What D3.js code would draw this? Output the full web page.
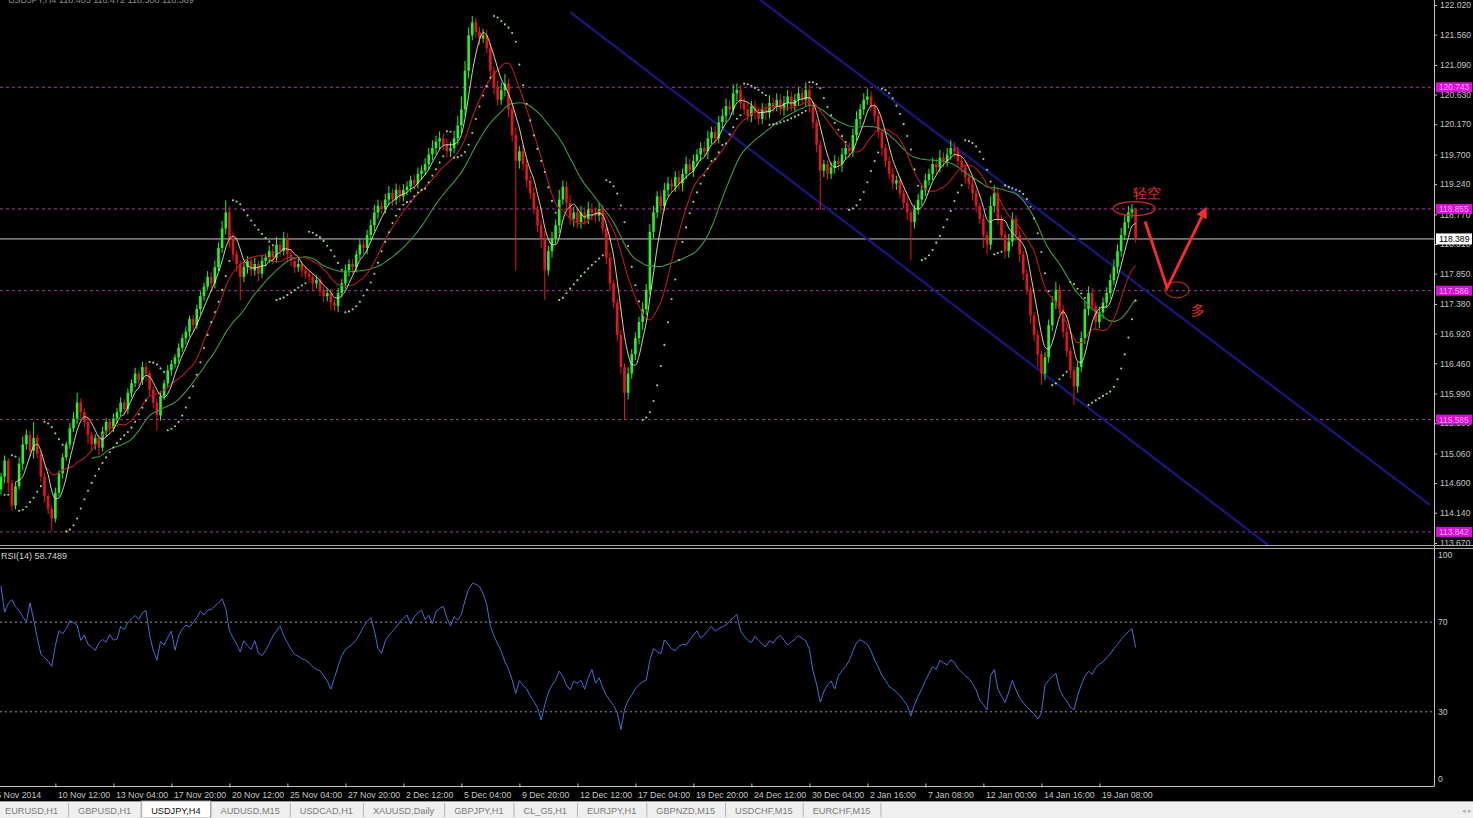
<!DOCTYPE html>
<html><head><meta charset="utf-8">
<script src="https://cdn.jsdelivr.net/npm/d3@7"></script>
<style>
html,body{margin:0;padding:0;background:#000;overflow:hidden}
svg{display:block}
text{font-family:"Liberation Sans",Arial,sans-serif}
</style></head><body>
<svg id="chart" width="1473" height="818"></svg>
<script>
// ---------------- data: USDJPY H4 ----------------
const headerText = "USDJPY,H4  118.405 118.472 118.300 118.389";
const firstOpen = 114.50;
const closes = [
114.70,114.95,114.60,114.25,114.55,114.90,115.20,115.35,115.10,115.30,115.05,114.70,114.40,114.20,114.05,114.45,
114.75,115.00,115.20,115.45,115.60,115.85,115.70,115.55,115.35,115.20,115.30,115.15,115.40,115.55,115.45,115.60,
115.70,115.85,115.75,116.00,116.15,116.30,116.20,116.40,116.30,116.05,115.85,115.65,115.95,116.15,116.35,116.45,
116.55,116.70,116.85,116.95,117.15,117.05,117.30,117.50,117.65,117.80,117.70,117.95,118.25,118.55,118.80,118.40,
118.15,118.00,117.80,117.95,118.05,117.90,118.00,117.85,118.05,118.10,118.20,118.10,118.30,118.20,118.40,118.15,
118.05,117.95,118.00,117.90,117.85,117.80,117.70,117.75,117.60,117.50,117.55,117.40,117.35,117.55,117.70,117.90,
118.00,117.95,118.15,118.30,118.25,118.45,118.60,118.80,118.90,118.85,119.00,119.10,119.00,119.15,119.05,119.15,
119.20,119.30,119.25,119.40,119.45,119.55,119.70,119.80,119.90,119.95,119.85,119.75,119.80,119.95,120.15,120.40,
121.00,121.55,121.75,121.60,121.50,121.55,121.35,121.00,120.75,120.55,120.70,120.80,120.40,120.00,119.60,119.75,
119.55,119.30,119.10,118.85,118.60,118.40,117.90,118.20,118.40,118.60,119.00,119.20,118.95,118.70,118.80,118.65,
118.80,118.70,118.85,118.80,118.75,118.85,118.55,118.10,117.70,117.40,116.90,116.40,116.00,116.30,116.60,116.85,
117.10,117.30,117.60,118.50,118.80,119.05,118.90,119.15,119.25,119.20,119.35,119.25,119.40,119.55,119.45,119.60,
119.70,119.80,119.75,119.95,120.05,119.95,120.20,120.30,120.45,120.40,120.65,120.70,120.50,120.40,120.30,120.45,
120.35,120.25,120.40,120.35,120.50,120.45,120.55,120.40,120.50,120.60,120.45,120.55,120.65,120.55,120.70,120.45,
120.20,119.85,119.45,119.55,119.40,119.50,119.60,119.55,119.70,119.80,119.75,120.00,120.25,120.40,120.55,120.60,
120.45,120.30,120.05,119.80,119.60,119.40,119.25,119.30,119.10,118.95,118.80,118.65,118.85,119.00,119.15,119.30,
119.40,119.55,119.50,119.65,119.60,119.70,119.80,119.75,119.60,119.50,119.35,119.25,119.10,118.90,118.70,118.45,
118.30,118.90,119.10,118.70,118.45,118.20,118.35,118.70,118.45,118.15,117.85,117.60,117.20,116.90,116.60,116.30,
116.55,117.05,117.40,117.60,117.30,116.95,116.65,116.35,116.10,116.40,116.85,117.30,117.55,117.35,117.10,117.25,
117.40,117.55,117.75,117.95,118.20,118.45,118.65,118.80,118.85,118.389
];
// wick length above / below each candle body, in pips
const wickUp = [
6,8,4,5,7,10,12,8,6,25,5,4,6,3,5,8,
5,6,4,8,10,15,6,5,8,4,6,5,7,6,5,8,
6,8,5,7,6,9,5,8,6,4,5,6,7,5,8,6,
5,7,6,8,5,6,7,8,6,9,7,10,8,12,19,10,
8,6,5,9,7,6,10,5,8,6,9,7,12,6,10,8,
6,5,8,5,7,6,5,8,6,5,7,6,5,8,7,9,
7,8,6,10,7,8,9,12,10,8,9,11,7,10,8,9,
8,7,9,10,8,9,10,12,9,11,8,10,9,12,15,20,
15,12,10,8,8,10,9,8,6,10,12,15,8,10,12,8,
10,8,7,9,6,8,12,8,10,9,15,10,8,12,9,8,
10,8,12,9,8,10,7,6,8,6,5,8,6,10,8,9,
8,10,9,12,10,8,9,11,10,8,9,10,8,12,9,10,
8,9,10,12,8,9,10,11,12,9,14,10,8,9,10,8,
9,8,10,9,12,8,10,9,11,10,8,9,10,8,12,8,
6,5,8,7,6,8,9,7,10,8,9,10,12,8,10,12,
8,6,7,5,6,8,9,7,6,5,8,6,7,9,8,10,
8,10,9,12,8,10,12,9,7,8,6,7,8,6,5,7,
6,15,12,8,6,7,12,10,6,7,5,6,5,6,7,5,
8,9,10,12,8,6,7,5,6,8,10,12,10,8,6,9,
8,9,10,12,10,11,12,10,8,2
];
const wickDn = [
8,10,15,8,6,5,10,8,9,12,6,8,10,8,20,6,
6,8,5,7,6,8,10,8,15,10,8,12,6,8,10,6,
8,6,10,8,7,6,10,8,12,10,9,23,8,6,7,8,
6,8,7,10,8,9,6,8,7,6,10,8,6,8,9,15,
10,12,36,8,10,9,8,12,7,9,8,10,8,9,7,10,
8,9,7,10,8,9,12,8,10,9,8,12,8,10,7,8,
9,10,8,7,9,10,8,9,10,8,7,9,10,8,9,8,
8,9,10,8,9,7,8,9,10,12,8,10,9,8,10,12,
10,12,8,9,10,7,8,10,12,9,8,10,12,10,170,12,
10,12,9,8,10,15,46,8,10,9,12,8,10,9,12,10,
10,9,8,12,10,9,8,10,12,9,10,10,42,10,8,9,
10,12,9,8,10,9,12,8,10,9,8,10,12,9,8,10,
9,10,8,12,9,10,8,9,10,8,9,12,10,9,8,10,
10,9,8,12,9,10,8,9,10,12,8,9,10,8,9,10,
10,12,61,10,9,8,10,9,12,8,10,9,8,10,9,8,
8,10,9,12,10,8,9,10,8,9,12,59,10,8,9,10,
8,10,9,8,10,9,8,10,9,8,10,9,12,10,8,20,
15,8,10,9,8,12,10,8,9,12,10,8,12,10,20,18,
10,8,9,10,8,10,9,12,29,10,8,9,10,8,12,10,
10,8,9,8,10,9,8,10,9,6
];
// RSI(14) per bar
const rsiValues = [
86.2,74.5,78.3,80.1,76.8,75.2,72.4,70.1,78.6,71.3,63.0,55.8,54.2,52.6,50.3,59.7,
66.2,64.8,67.1,70.6,69.8,68.7,61.9,64.3,60.2,58.9,57.4,60.8,62.3,61.1,64.5,62.0,
62.4,68.1,66.7,69.8,71.5,73.0,71.2,74.3,75.1,64.2,57.3,53.0,61.4,59.8,63.2,66.0,
57.5,63.8,66.9,68.7,67.9,69.8,72.1,74.9,73.2,75.3,75.8,77.2,78.6,80.4,76.1,66.3,
63.1,60.2,56.8,61.7,59.4,57.9,61.8,56.2,55.1,57.3,60.4,63.8,66.1,68.2,64.0,60.9,
57.9,55.6,54.8,53.7,53.1,51.8,50.2,48.9,48.3,46.0,43.8,40.1,45.3,50.2,55.1,57.8,
59.0,60.3,62.1,64.9,68.0,70.2,72.1,66.3,58.2,56.1,61.7,64.2,66.0,67.8,70.1,71.8,
73.2,69.1,72.4,74.0,75.3,71.2,73.1,69.4,74.8,76.2,77.1,72.0,68.3,72.5,70.9,73.4,
79.8,84.6,87.3,87.0,85.9,82.7,77.8,68.1,63.9,60.2,57.1,52.4,49.0,44.3,38.2,43.9,
41.8,40.2,37.1,34.6,31.8,26.3,33.1,38.7,41.9,44.3,48.2,45.7,41.9,39.8,43.6,42.8,
44.0,40.1,45.3,48.9,42.8,45.2,40.7,37.3,35.0,32.8,29.6,22.1,30.8,35.2,37.4,40.3,
42.1,43.4,44.2,53.0,58.3,56.9,55.8,62.1,60.2,58.1,57.3,59.2,60.1,59.8,62.0,64.3,
66.1,62.9,64.2,66.3,68.1,66.0,67.2,67.9,68.8,70.3,72.1,73.4,66.2,63.8,62.0,60.9,
63.7,61.9,60.2,59.1,61.8,60.7,62.9,64.1,62.0,59.8,61.2,62.3,64.0,62.8,61.7,57.9,
48.1,42.3,34.2,39.1,42.0,43.8,40.2,46.1,48.3,50.2,52.9,57.1,60.8,62.2,61.3,60.1,
57.2,53.1,50.0,46.2,44.1,41.3,40.2,38.8,37.1,35.0,32.9,28.1,33.2,36.9,40.2,44.0,
47.1,50.2,48.9,53.0,51.8,51.0,53.2,52.1,49.3,47.8,46.2,44.9,42.7,39.8,35.1,33.2,
30.9,46.2,48.8,40.1,37.0,34.2,38.8,44.1,39.7,36.2,34.1,32.0,30.8,28.9,26.8,29.3,
42.0,44.1,45.8,47.2,40.1,37.0,34.8,32.1,30.9,37.2,42.0,45.9,48.1,46.8,49.7,51.2,
52.3,54.1,55.8,58.2,60.1,62.3,64.0,65.8,67.1,58.7489
];
const rsiLabel = "RSI(14) 58.7489";
const priceTicks = [122.020,121.560,121.090,120.630,120.170,119.700,119.240,118.770,118.310,
  117.850,117.380,116.920,116.460,115.990,115.530,115.060,114.600,114.140,113.670];
const levelLines = [120.743,118.855,117.586,115.585,113.842];
const lastPrice = 118.389;
const rsiTicks = [100,70,30,0];
const rsiLevels = [70,30];
const dateTickBars = [-2,15,31,47,63,79,95,111,127,143,159,175,191,207,223,239,255,271,287,303];
const dateTickLabels = ["5 Nov 2014","10 Nov 12:00","13 Nov 04:00","17 Nov 20:00","20 Nov 12:00",
  "25 Nov 04:00","27 Nov 20:00","2 Dec 12:00","5 Dec 04:00","9 Dec 20:00","12 Dec 12:00",
  "17 Dec 04:00","19 Dec 20:00","24 Dec 12:00","30 Dec 04:00","2 Jan 16:00","7 Jan 08:00",
  "12 Jan 00:00","14 Jan 16:00","19 Jan 08:00"];
// descending channel, anchors as [bar, price]; upper one is extended back to the top edge
const channelUpper = [[209.4,122.10],[394.2,114.26]];
const channelLower = [[157.0,121.91],[349.5,113.64]];
// trade-plan annotation, anchors as [bar, price]
const planPath = [[315.6,118.66],[321.7,117.63],[331.9,118.81]];
const topEllipse = {bar:312.6, price:118.86, rx:21, ry:7};
const lowEllipse = {bar:324.4, price:117.60, rx:12, ry:8};
const shortNote = {bar:316.1, price:119.10, text:"轻空"};
const longNote = {bar:330.2, price:117.29, text:"多"};
const tabs = ["EURUSD,H1","GBPUSD,H1","USDJPY,H4","AUDUSD,M15","USDCAD,H1","XAUUSD,Daily",
  "GBPJPY,H1","CL_G5,H1","EURJPY,H1","GBPNZD,M15","USDCHF,M15","EURCHF,M15"];
const activeTab = "USDJPY,H4";

// ---------------- layout ----------------
const W = 1473, H = 818;
const axisX = 1434;
const priceTop = 0, priceBottom = 545;
const rsiTop = 550, rsiBottom = 786;
const svg = d3.select("#chart");

const x = d3.scaleLinear().domain([0, 313]).range([1, 1 + 313 * 3.625]);
const y = d3.scaleLinear().domain([113.670, 122.020]).range([543, 5]);
const yR = d3.scaleLinear().domain([0, 100]).range([779, 555]);

svg.append("rect").attr("width", W).attr("height", H).attr("fill", "#000");

const defs = svg.append("defs");
defs.append("clipPath").attr("id", "clipPrice").append("rect")
  .attr("x", 0).attr("y", priceTop).attr("width", axisX).attr("height", priceBottom - priceTop);
defs.append("clipPath").attr("id", "clipRsi").append("rect")
  .attr("x", 0).attr("y", rsiTop).attr("width", axisX).attr("height", rsiBottom - rsiTop);
defs.append("marker").attr("id", "arrowHead").attr("viewBox", "0 0 10 10")
  .attr("refX", 5).attr("refY", 5).attr("markerWidth", 4).attr("markerHeight", 4)
  .attr("orient", "auto").append("path").attr("d", "M0,0 L10,5 L0,10 z").attr("fill", "#ff2a2a");

// ---------------- price panel ----------------
const bars = closes.map((c, i) => {
  const o = i === 0 ? firstOpen : closes[i - 1];
  return {i, o, c, h: Math.max(o, c) + wickUp[i] / 100, l: Math.min(o, c) - wickDn[i] / 100};
});

const pricePanel = svg.append("g").attr("clip-path", "url(#clipPrice)");

// horizontal support / resistance levels
pricePanel.selectAll("line.level").data(levelLines).join("line")
  .attr("x1", 0).attr("x2", axisX).attr("y1", d => y(d)).attr("y2", d => y(d))
  .attr("stroke", "#a63ca6").attr("stroke-width", 1).attr("stroke-dasharray", "3,3");

// current bid line
pricePanel.append("line").attr("x1", 0).attr("x2", axisX)
  .attr("y1", y(lastPrice)).attr("y2", y(lastPrice))
  .attr("stroke", "#c8c8c8").attr("stroke-width", 1);

// channel lines
[[channelUpper, 10], [channelLower, 0]].forEach(([ch, back]) => {
  const [p0, p1] = ch;
  const slope = (p1[1] - p0[1]) / (p1[0] - p0[0]);
  const b0 = p0[0] - back;
  pricePanel.append("line")
    .attr("x1", x(b0)).attr("y1", y(p0[1] + slope * (b0 - p0[0])))
    .attr("x2", x(p1[0])).attr("y2", y(p1[1]))
    .attr("stroke", "#18187e").attr("stroke-width", 2.2);
});

// candles
const bull = "#27f227", bear = "#e61616";
const cg = pricePanel.append("g");
cg.selectAll("line.wick").data(bars).join("line")
  .attr("x1", d => x(d.i)).attr("x2", d => x(d.i))
  .attr("y1", d => y(d.h)).attr("y2", d => y(d.l))
  .attr("stroke", d => d.c >= d.o ? bull : bear).attr("stroke-width", 1);
cg.selectAll("rect.body").data(bars).join("rect")
  .attr("x", d => x(d.i) - 1.3).attr("width", 2.6)
  .attr("y", d => y(Math.max(d.o, d.c)))
  .attr("height", d => Math.max(1, Math.abs(y(d.o) - y(d.c))))
  .attr("fill", d => d.c >= d.o ? bull : bear);

// moving averages of closes
function sma(arr, n) {
  return arr.map((v, i) => i < n - 1 ? null : d3.mean(arr.slice(i - n + 1, i + 1)));
}
const maSpecs = [
  {n: 26, color: "#3f9a3f", w: 1.1},
  {n: 13, color: "#b81c1c", w: 1.1},
  {n: 5, color: "#ebe8cc", w: 0.9}
];
maSpecs.forEach(s => {
  const vals = sma(closes, s.n);
  pricePanel.append("path")
    .datum(vals.map((v, i) => ({i, v})))
    .attr("fill", "none").attr("stroke", s.color).attr("stroke-width", s.w)
    .attr("d", d3.line().defined(d => d.v != null).x(d => x(d.i)).y(d => y(d.v)).curve(d3.curveMonotoneX));
});

// parabolic SAR (0.02 / 0.2)
function parabolicSar(hi, lo, step, maxAf) {
  const out = [null];
  let up = true, af = step, ep = hi[0], sar = lo[0];
  for (let i = 1; i < hi.length; i++) {
    sar = sar + af * (ep - sar);
    if (up) {
      sar = Math.min(sar, lo[i - 1], lo[Math.max(0, i - 2)]);
      if (lo[i] < sar) { up = false; sar = ep; ep = lo[i]; af = step; }
      else if (hi[i] > ep) { ep = hi[i]; af = Math.min(af + step, maxAf); }
    } else {
      sar = Math.max(sar, hi[i - 1], hi[Math.max(0, i - 2)]);
      if (hi[i] > sar) { up = true; sar = ep; ep = hi[i]; af = step; }
      else if (lo[i] < ep) { ep = lo[i]; af = Math.min(af + step, maxAf); }
    }
    out.push(sar);
  }
  return out;
}
const sarVals = parabolicSar(bars.map(d => d.h), bars.map(d => d.l), 0.02, 0.2);
pricePanel.selectAll("circle.sar").data(sarVals.map((v, i) => ({i, v})).filter(d => d.v != null))
  .join("circle")
  .attr("cx", d => x(d.i)).attr("cy", d => y(d.v)).attr("r", 1.05)
  .attr("fill", "#9fd698");

// trade plan annotation
const red = "#ff2a2a";
pricePanel.append("ellipse")
  .attr("cx", x(topEllipse.bar)).attr("cy", y(topEllipse.price))
  .attr("rx", topEllipse.rx).attr("ry", topEllipse.ry)
  .attr("fill", "none").attr("stroke", "#d02a2a").attr("stroke-width", 1.3);
pricePanel.append("ellipse")
  .attr("cx", x(lowEllipse.bar)).attr("cy", y(lowEllipse.price))
  .attr("rx", lowEllipse.rx).attr("ry", lowEllipse.ry)
  .attr("fill", "none").attr("stroke", "#a82a22").attr("stroke-width", 1.2);
pricePanel.append("path")
  .attr("d", d3.line().x(d => x(d[0])).y(d => y(d[1]))(planPath))
  .attr("fill", "none").attr("stroke", red).attr("stroke-width", 2.8)
  .attr("stroke-linejoin", "miter").attr("marker-end", "url(#arrowHead)");
[shortNote, longNote].forEach(n => {
  pricePanel.append("text").attr("x", x(n.bar)).attr("y", y(n.price))
    .attr("text-anchor", "middle").attr("dominant-baseline", "central")
    .attr("font-family", "'Noto Sans CJK SC',sans-serif").attr("font-size", 14)
    .attr("fill", "#e8322a").text(n.text);
});

// header
svg.append("text").attr("x", 8).attr("y", 2.5).attr("font-size", 9)
  .attr("fill", "#8a8a8a").text(headerText);

// ---------------- price axis ----------------
const axisColor = "#c4c4c4";
const pAxis = svg.append("g").attr("transform", `translate(${axisX},0)`)
  .call(d3.axisRight(y).tickValues(priceTicks).tickFormat(d3.format(".3f")).tickSize(3).tickPadding(3));
pAxis.select(".domain").attr("d", `M0.5,0V${rsiBottom}`).attr("stroke", axisColor);
pAxis.selectAll(".tick line").attr("stroke", axisColor);
pAxis.selectAll(".tick text").attr("fill", axisColor).attr("font-size", 8.6)
  .attr("font-family", "'Liberation Sans',Arial,sans-serif");

// level labels
const lvl = svg.append("g").selectAll("g").data(levelLines).join("g")
  .attr("transform", d => `translate(${axisX + 2},${y(d)})`);
lvl.append("rect").attr("x", 0).attr("y", -5).attr("width", 36).attr("height", 10).attr("fill", "#d610d6");
lvl.append("text").attr("x", 3).attr("y", 3).attr("font-size", 8.4).attr("fill", "#f4a8f4")
  .text(d => d3.format(".3f")(d));

const lp = svg.append("g").attr("transform", `translate(${axisX + 2},${y(lastPrice)})`);
lp.append("rect").attr("x", 0).attr("y", -5.5).attr("width", 36).attr("height", 11).attr("fill", "#fff");
lp.append("text").attr("x", 3).attr("y", 3.3).attr("font-size", 8.6).attr("fill", "#000")
  .text(d3.format(".3f")(lastPrice));

// panel separators
[545.5, 548.5].forEach(yy => svg.append("line").attr("x1", 0).attr("x2", W)
  .attr("y1", yy).attr("y2", yy).attr("stroke", "#a8a8a8").attr("stroke-width", 1));

// ---------------- RSI panel ----------------
const rsiPanel = svg.append("g").attr("clip-path", "url(#clipRsi)");
rsiPanel.selectAll("line.rl").data(rsiLevels).join("line")
  .attr("x1", 0).attr("x2", axisX).attr("y1", d => yR(d)).attr("y2", d => yR(d))
  .attr("stroke", "#9a9a9a").attr("stroke-dasharray", "2,3");
rsiPanel.append("path").datum(rsiValues)
  .attr("fill", "none").attr("stroke", "#4a6fd4").attr("stroke-width", 1)
  .attr("d", d3.line().x((d, i) => x(i)).y(d => yR(d)));

svg.append("text").attr("x", 1).attr("y", 559).attr("font-size", 9)
  .attr("fill", "#d0d0d0").text(rsiLabel);

const rAxis = svg.append("g").attr("transform", `translate(${axisX},0)`)
  .call(d3.axisRight(yR).tickValues(rsiTicks).tickSize(0).tickPadding(4));
rAxis.select(".domain").remove();
rAxis.selectAll(".tick text").attr("fill", axisColor).attr("font-size", 8.6)
  .attr("font-family", "'Liberation Sans',Arial,sans-serif");

// ---------------- time axis ----------------
const tAxis = svg.append("g").attr("transform", `translate(0,${rsiBottom + 0.5})`)
  .call(d3.axisBottom(x).tickValues(dateTickBars).tickFormat((d, i) => dateTickLabels[i]).tickSize(4).tickPadding(5));
tAxis.select(".domain").attr("d", `M0,0H${axisX + 0.5}`).attr("stroke", axisColor);
tAxis.selectAll(".tick line").attr("stroke", axisColor).attr("y1", -3).attr("y2", 1);
tAxis.selectAll(".tick text").attr("fill", axisColor).attr("font-size", 8.8)
  .attr("text-anchor", "start").attr("dx", 2).attr("dy", "0.3em")
  .attr("font-family", "'Liberation Sans',Arial,sans-serif");

// ---------------- symbol tabs ----------------
const tabBar = svg.append("g");
tabBar.append("rect").attr("x", 0).attr("y", 801).attr("width", W).attr("height", 17).attr("fill", "#efefef");
tabBar.append("line").attr("x1", 0).attr("x2", W).attr("y1", 801.5).attr("y2", 801.5).attr("stroke", "#9a9a9a");
let tx = -5;
tabs.forEach(t => {
  const isActive = t === activeTab;
  const label = tabBar.append("text").attr("y", 814).attr("font-size", 9.2)
    .attr("fill", isActive ? "#111" : "#7a7a7a").text(t);
  const tw = label.node().getComputedTextLength();
  const pad = 10;
  const w = tw + pad * 2;
  if (isActive) {
    tabBar.insert("rect", "text").attr("x", tx).attr("y", 801).attr("width", w).attr("height", 17)
      .attr("fill", "#fff").attr("stroke", "#9a9a9a");
  }
  label.attr("x", tx + pad);
  tabBar.append("line").attr("x1", tx + w + 0.5).attr("x2", tx + w + 0.5)
    .attr("y1", 803).attr("y2", 817).attr("stroke", "#b4b4b4");
  tx += w;
});
tabBar.append("text").attr("x", 1462).attr("y", 813).attr("font-size", 7).attr("fill", "#aaa").text("◂");
tabBar.append("text").attr("x", 1468).attr("y", 813).attr("font-size", 7).attr("fill", "#aaa").text("▸");
</script>
</body></html>
